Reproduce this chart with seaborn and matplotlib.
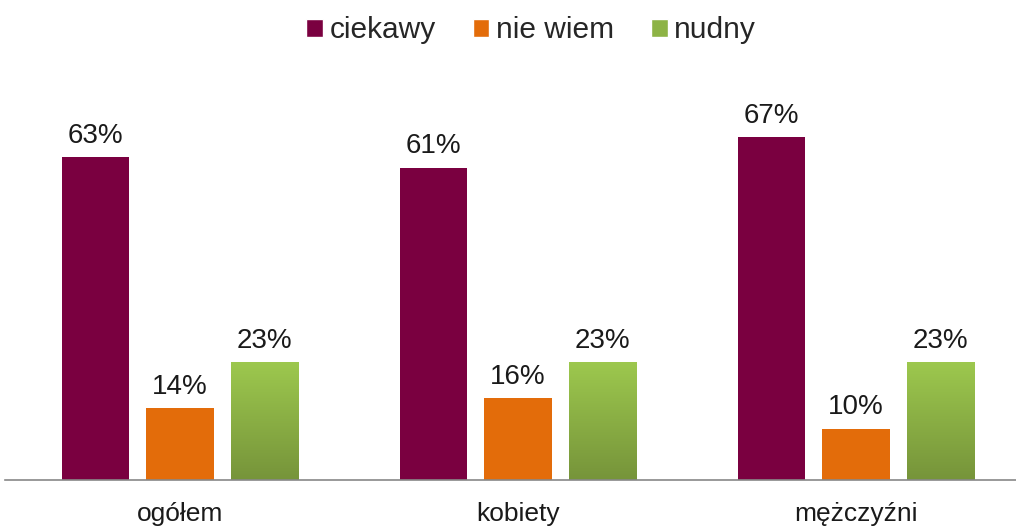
import numpy as np
import pandas as pd
import matplotlib
matplotlib.use("Agg")
import matplotlib.pyplot as plt
import seaborn as sns
from matplotlib.patches import Patch

# data
groups = ["ogółem", "kobiety", "mężczyźni"]
answers = ["ciekawy", "nie wiem", "nudny"]
ciekawy = [63, 61, 67]
nie_wiem = [14, 16, 10]
nudny = [23, 23, 23]

colors = ["#7A0040", "#E36C0A", "#8DB345"]

df = pd.DataFrame({
    "grupa": groups * 3,
    "odpowiedz": [a for a in answers for _ in groups],
    "procent": ciekawy + nie_wiem + nudny,
})

sns.set_style("white")
plt.rcParams["font.family"] = ["Liberation Sans", "DejaVu Sans"]

fig = plt.figure(figsize=(10.16, 5.27), dpi=100)
ax = fig.add_axes([5 / 1016, 47 / 527, 1011 / 1016, 409.6 / 527])

sns.barplot(data=df, x="grupa", y="procent", hue="odpowiedz",
            order=groups, hue_order=answers, palette=colors,
            saturation=1, linewidth=0,
            width=0.75, gap=0.2, legend=False, ax=ax)

# gradient on the green bars
grad = np.linspace(0, 1, 256).reshape(-1, 1)
cmap = matplotlib.colors.LinearSegmentedColormap.from_list("g", ["#76943A", "#9DC84E"])
for p in ax.containers[2]:
    x, y = p.get_x(), p.get_y()
    w, h = p.get_width(), p.get_height()
    im = ax.imshow(grad, extent=[x, x + w, y, y + h], origin="lower",
                   aspect="auto", cmap=cmap, zorder=p.get_zorder() + 0.1)
    im.set_clip_path(p)

for c in ax.containers:
    ax.bar_label(c, labels=[f"{v:.0f}%" for v in c.datavalues],
                 padding=6, fontsize=20, color="#1a1a1a")

ax.set_xlim(-0.518, 2.473)
ax.set_ylim(0, 80)
ax.set_xlabel("")
ax.set_ylabel("")
ax.set_yticks([])
ax.tick_params(axis="x", length=0, labelsize=19, pad=16, labelcolor="#1a1a1a")
for s in ["top", "right", "left"]:
    ax.spines[s].set_visible(False)
ax.spines["bottom"].set_color("#888888")
ax.spines["bottom"].set_linewidth(1.2)

handles = [Patch(facecolor=c, label=a) for c, a in zip(colors, answers)]
fig.legend(handles=handles, loc="upper center", bbox_to_anchor=(0.523, 1.02),
           ncol=3, frameon=False, fontsize=21.5, handlelength=0.55,
           handleheight=0.55, handletextpad=0.22, columnspacing=1.25)

fig.savefig("out.png", dpi=100)
